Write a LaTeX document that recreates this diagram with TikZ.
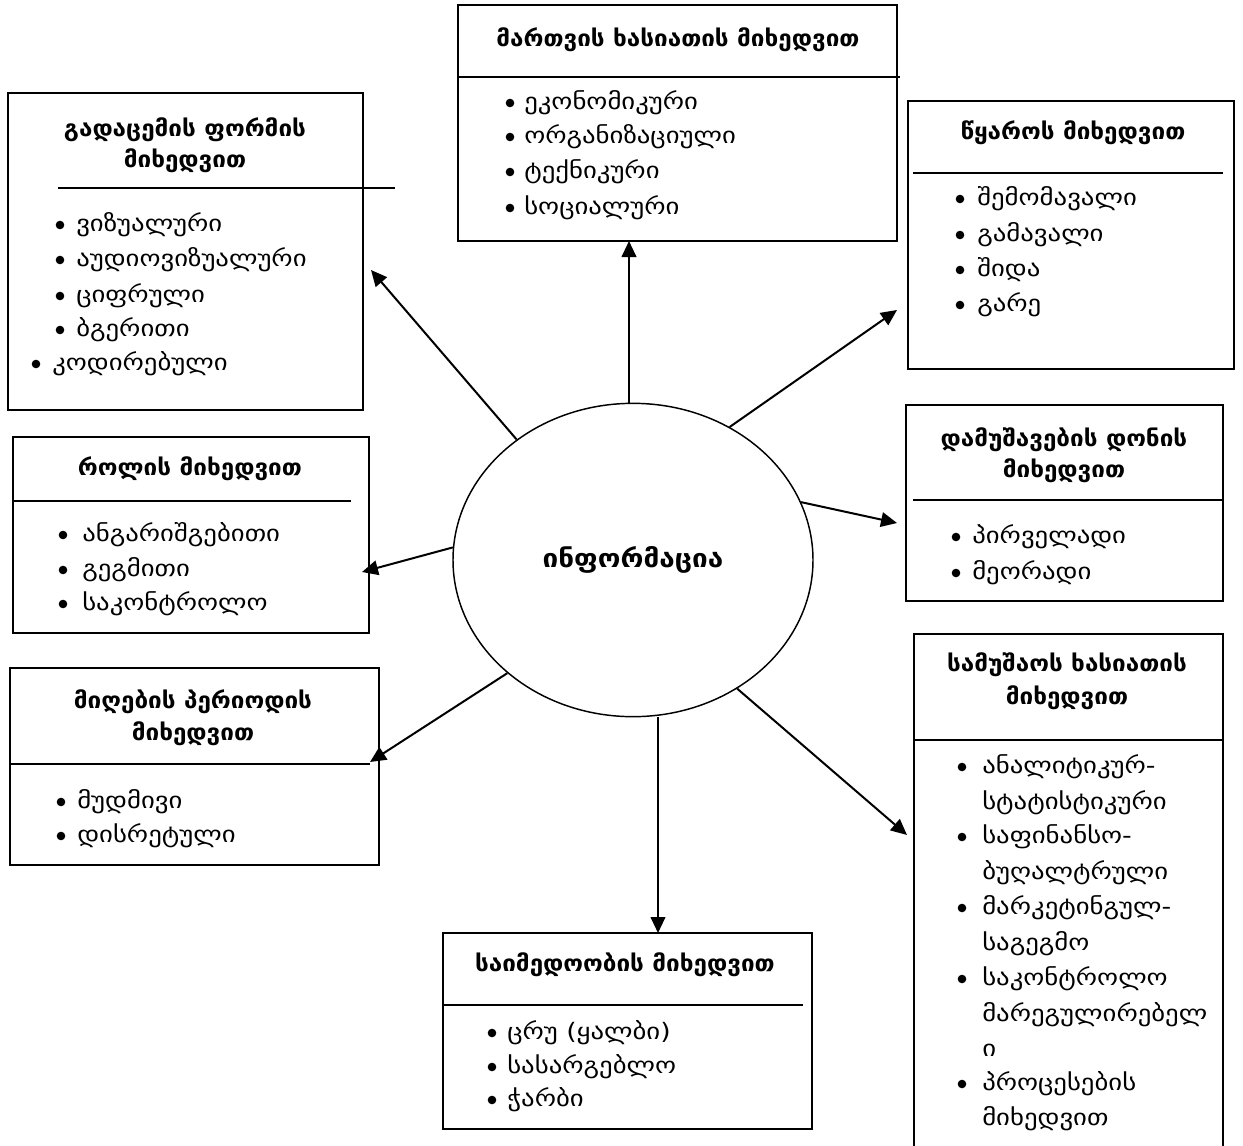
\documentclass[tikz,border=0pt]{standalone}
\usepackage{fontspec}
\setmainfont{DejaVu Sans}[FakeStretch=1.18]
\newfontfamily\headfont{DejaVu Sans}[FakeStretch=1.07]
\newfontfamily\centerfont{DejaVu Sans}[FakeStretch=1.1]
\usetikzlibrary{arrows.meta,fit,shapes.geometric}
\begin{document}
\begin{tikzpicture}[x=0.75pt,y=-0.75pt,
  box/.style={draw, line width=1.1pt, inner sep=0pt},
  rule/.style={line width=1.1pt},
  head/.style={font=\headfont\fontsize{17}{20}\selectfont\bfseries, anchor=base, inner sep=0pt},
  item/.style={font=\fontsize{17}{20}\selectfont, anchor=base west, inner sep=0pt},
  bul/.style={radius=4.3},
  arr/.style={line width=1.5pt, -{Triangle[length=12pt,width=11pt]}}]
\useasboundingbox (0,0) rectangle (1243,1146);

% central ellipse
\node[draw, line width=1.1pt, ellipse, inner sep=0pt, minimum width=270pt, minimum height=235pt,
      font=\centerfont\fontsize{19}{22}\selectfont\bfseries] (info) at (633,560) {ინფორმაცია};

% --- box: transmission form
\node[box, fit={(8,93) (363,410)}] (b1) {};
\node[head] at (185,136) {გადაცემის ფორმის};
\node[head] at (185,167) {მიხედვით};
\draw[rule] (58,188) -- (395,188);
\foreach \y/\t in {225/ვიზუალური, 260/აუდიოვიზუალური, 296/ციფრული, 330/ბგერითი}{
  \fill[bul] (60,\y) circle;
  \node[item] at (76,\y+6) {\t};
}
\fill[bul] (36,364) circle;
\node[item] at (52,370) {კოდირებული};

% --- box: management character
\node[box, fit={(458,5) (897,241)}] (b2) {};
\node[head] at (678,46) {მართვის ხასიათის მიხედვით};
\draw[rule] (458,77) -- (900,77);
\foreach \y/\t in {103/ეკონომიკური, 137/ორგანიზაციული, 172/ტექნიკური, 208/სოციალური}{
  \fill[bul] (510,\y) circle;
  \node[item] at (524,\y+6) {\t};
}

% --- box: source
\node[box, fit={(908,101) (1234,369)}] (b3) {};
\node[head] at (1073,139) {წყაროს მიხედვით};
\draw[rule] (913,173) -- (1223,173);
\foreach \y/\t in {199/შემომავალი, 235/გამავალი, 270/შიდა, 305/გარე}{
  \fill[bul] (960,\y) circle;
  \node[item] at (977,\y+6) {\t};
}

% --- box: role
\node[box, fit={(13,437) (369,633)}] (b4) {};
\node[head] at (190,475) {როლის მიხედვით};
\draw[rule] (13,501) -- (351,501);
\foreach \y/\t in {535/ანგარიშგებითი, 570/გეგმითი, 604/საკონტროლო}{
  \fill[bul] (63,\y) circle;
  \node[item] at (82,\y+6) {\t};
}

% --- box: reception period
\node[box, fit={(10,668) (379,865)}] (b5) {};
\node[head] at (193,708) {მიღების პერიოდის};
\node[head] at (193,740) {მიხედვით};
\draw[rule] (10,764) -- (370,764);
\foreach \y/\t in {802/მუდმივი, 836/დისრეტული}{
  \fill[bul] (61,\y) circle;
  \node[item] at (77,\y+6) {\t};
}

% --- box: processing level
\node[box, fit={(906,405) (1223,601)}] (b6) {};
\node[head] at (1064,446) {დამუშავების დონის};
\node[head] at (1064,477) {მიხედვით};
\draw[rule] (913,500) -- (1222,500);
\foreach \y/\t in {537/პირველადი, 573/მეორადი}{
  \fill[bul] (956,\y) circle;
  \node[item] at (972,\y+6) {\t};
}

% --- box: work character (runs past the lower edge)
\draw[rule] (914,1146) -- (914,634) -- (1223,634) -- (1223,1146);
\coordinate (b7) at (914,634);
\node[head] at (1067,671) {სამუშაოს ხასიათის};
\node[head] at (1067,704) {მიხედვით};
\draw[rule] (914,740) -- (1223,740);
\foreach \y in {767, 837, 908, 979, 1084}{
  \fill[bul] (962,\y) circle;
}
\foreach \y/\t in {767/ანალიტიკურ-, 803/სტატისტიკური, 837/საფინანსო-, 873/ბუღალტრული,
                   908/მარკეტინგულ-, 944/საგეგმო, 979/საკონტროლო, 1015/მარეგულირებელ,
                   1050/ი, 1084/პროცესების, 1119/მიხედვით}{
  \node[item] at (982,\y+6) {\t};
}

% --- box: reliability
\node[box, fit={(443,933) (812,1129)}] (b8) {};
\node[head] at (625,971) {საიმედოობის მიხედვით};
\draw[rule] (443,1005) -- (803,1005);
\foreach \y/\t in {1033/ცრუ (ყალბი), 1067/სასარგებლო, 1100/ჭარბი}{
  \fill[bul] (492,\y) circle;
  \node[item] at (507,\y+6) {\t};
}

% arrow tips
\coordinate (t1) at (371,270);
\coordinate (t2) at (629,241);
\coordinate (t3) at (897,310);
\coordinate (t4) at (897,523);
\coordinate (t5) at (362,572);
\coordinate (t6) at (370,762);
\coordinate (t7) at (907,835);
\coordinate (t8) at (658,933);

% connectors
\draw[arr] (info.134) -- (t1);
\draw[arr] (t2 |- info.north) -- (t2);
\draw[arr] (info.54) -- (t3);
\draw[arr] (info.19) -- (t4);
\draw[arr] (info.176) -- (t5);
\draw[arr] (info.222) -- (t6);
\draw[arr] (info.309) -- (t7);
\draw[arr] (t8 |- info.south) -- (t8);
\end{tikzpicture}
\end{document}
